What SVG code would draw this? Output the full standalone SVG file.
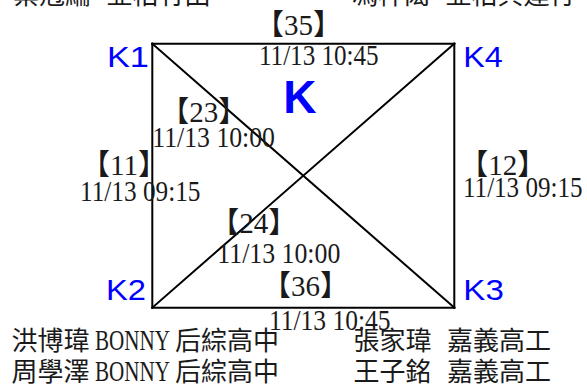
<svg xmlns="http://www.w3.org/2000/svg" width="587" height="387" viewBox="0 0 587 387">
<style>
.ser{font-family:"Liberation Serif","Noto Sans CJK TC",serif;font-size:29px;fill:#1a1a1a}
.k{font-family:"Liberation Sans",Arial,sans-serif;font-size:30px;fill:#0000ff}
.big{font-family:"Liberation Sans",Arial,sans-serif;font-size:46px;font-weight:bold;fill:#0000ff}
.nm{font-family:"Liberation Serif","Noto Sans CJK TC",serif;font-size:26px;fill:#1a1a1a}
.edge{stroke:#000;stroke-width:2;fill:none;stroke-linecap:square}
</style>
<rect width="587" height="387" fill="#fff"/>
<g id="connectors">
  <g id="e35"><line class="edge" x1="152.3" y1="43.7" x2="454.3" y2="43.7"/>
    <text class="ser" x="255" y="35">【35】</text>
    <text class="ser" x="259" y="65" textLength="119.6" lengthAdjust="spacingAndGlyphs">11/13 10:45</text></g>
  <g id="e11"><line class="edge" x1="152.3" y1="43.7" x2="152.3" y2="307.7"/>
    <text class="ser" x="81" y="175">【11】</text>
    <text class="ser" x="80" y="200.7" textLength="120.5" lengthAdjust="spacingAndGlyphs">11/13 09:15</text></g>
  <g id="e12"><line class="edge" x1="454.3" y1="43.7" x2="454.3" y2="307.7"/>
    <text class="ser" x="459.3" y="175">【12】</text>
    <text class="ser" x="463" y="197" textLength="119.5" lengthAdjust="spacingAndGlyphs">11/13 09:15</text></g>
  <g id="e36"><line class="edge" x1="152.3" y1="307.7" x2="454.3" y2="307.7"/>
    <text class="ser" x="262" y="296">【36】</text>
    <text class="ser" x="269" y="330" textLength="121.5" lengthAdjust="spacingAndGlyphs">11/13 10:45</text></g>
  <g id="e23"><line class="edge" x1="152.3" y1="43.7" x2="454.3" y2="307.7"/>
    <text class="ser" x="160.3" y="121.7">【23】</text>
    <text class="ser" x="152.3" y="146.7" textLength="122.7" lengthAdjust="spacingAndGlyphs">11/13 10:00</text></g>
  <g id="e24"><line class="edge" x1="152.3" y1="307.7" x2="454.3" y2="43.7"/>
    <text class="ser" x="210.3" y="232.7">【24】</text>
    <text class="ser" x="217.3" y="263.3" textLength="123" lengthAdjust="spacingAndGlyphs">11/13 10:00</text></g>
</g>
<g id="title"><text class="big" x="283.2" y="113.3">K</text></g>
<g id="K1">
  <text class="k" x="106.9" y="66.7" textLength="42" lengthAdjust="spacingAndGlyphs">K1</text>
  <text class="nm" y="3.5"><tspan x="13">葉冠綸</tspan> <tspan x="106.5">亞柏竹田</tspan></text>
</g>
<g id="K4">
  <text class="k" x="463.3" y="66.7" textLength="39.5" lengthAdjust="spacingAndGlyphs">K4</text>
  <text class="nm" y="3.5"><tspan x="352">馮梓閎</tspan> <tspan x="445.5">亞柏興達行</tspan></text>
</g>
<g id="K2">
  <text class="k" x="105.9" y="300" textLength="40" lengthAdjust="spacingAndGlyphs">K2</text>
  <text class="nm" y="350"><tspan x="11.5">洪博瑋</tspan> <tspan x="95" textLength="75" lengthAdjust="spacingAndGlyphs" style="font-size:29px">BONNY</tspan><tspan x="175">后綜高中</tspan></text>
  <text class="nm" y="380.5"><tspan x="11.5">周學澤</tspan> <tspan x="95" textLength="75" lengthAdjust="spacingAndGlyphs" style="font-size:29px">BONNY</tspan><tspan x="175">后綜高中</tspan></text>
</g>
<g id="K3">
  <text class="k" x="463.3" y="300" textLength="40.5" lengthAdjust="spacingAndGlyphs">K3</text>
  <text class="nm" y="350"><tspan x="353.5">張家瑋</tspan> <tspan x="447">嘉義高工</tspan></text>
  <text class="nm" y="380.5"><tspan x="353.5">王子銘</tspan> <tspan x="447">嘉義高工</tspan></text>
</g>
</svg>
